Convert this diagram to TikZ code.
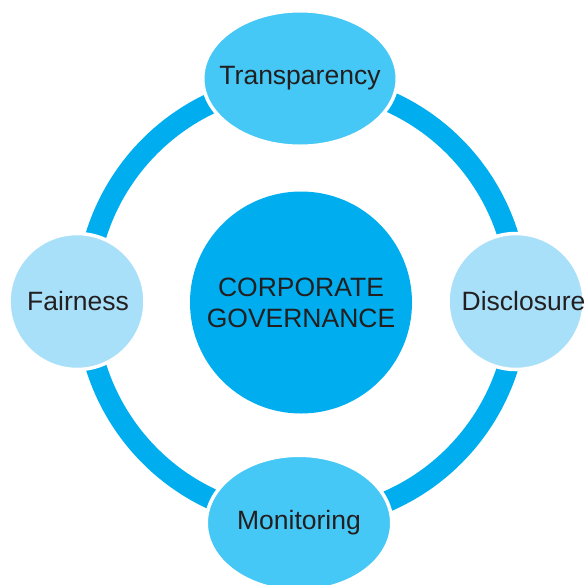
\documentclass[tikz,border=0pt]{standalone}
\usepackage{fontspec}
\setmainfont{Liberation Sans}
\usetikzlibrary{shapes.geometric}
\definecolor{ringblue}{HTML}{00AEEF}
\definecolor{midblue}{HTML}{45C8F5}
\definecolor{paleblue}{HTML}{A9E0F9}
\definecolor{inkdark}{HTML}{231F20}
\begin{document}
\begin{tikzpicture}[x=1pt,y=-1pt,
  every node/.style={font=\fontsize{26.5pt}{31pt}\selectfont, text=inkdark, inner sep=0pt},
  pillar/.style={ellipse, fill=midblue, draw=white, line width=3.5pt},
  sidecircle/.style={circle, fill=paleblue, draw=white, line width=3.5pt, minimum size=136pt},
  hub/.style={circle, fill=ringblue, minimum size=222pt},
  label/.style={align=center}]
  \useasboundingbox (0,0) rectangle (585,584);
  % the ring that links the four principles
  \coordinate (ringcenter) at (302,301);
  \draw[ringblue, line width=21pt] (ringcenter) circle[x radius=216, y radius=218];
  % central circle
  \node[hub] (core) at (301,302.5) {};
  \node[label] (coretext) at (core.center) {CORPORATE\\GOVERNANCE};
  % principle shapes sitting on the ring
  \node[pillar, minimum width=194.5pt, minimum height=135.5pt] (trans) at (300,78.5) {};
  \node[pillar, minimum width=185.5pt, minimum height=135.5pt] (moni) at (299,523) {};
  \node[sidecircle] (fair) at (77,301.5) {};
  \node[sidecircle] (disc) at (516,301.5) {};
  % their labels
  \node[label] (transtext) at (trans.center) {Transparency};
  \node[label] (monitext) at (moni.center) {Monitoring};
  \node[label] (fairtext) at (78,301.5) {Fairness};
  \node[label] (disctext) at (523.5,301.5) {Disclosure};
\end{tikzpicture}
\end{document}
